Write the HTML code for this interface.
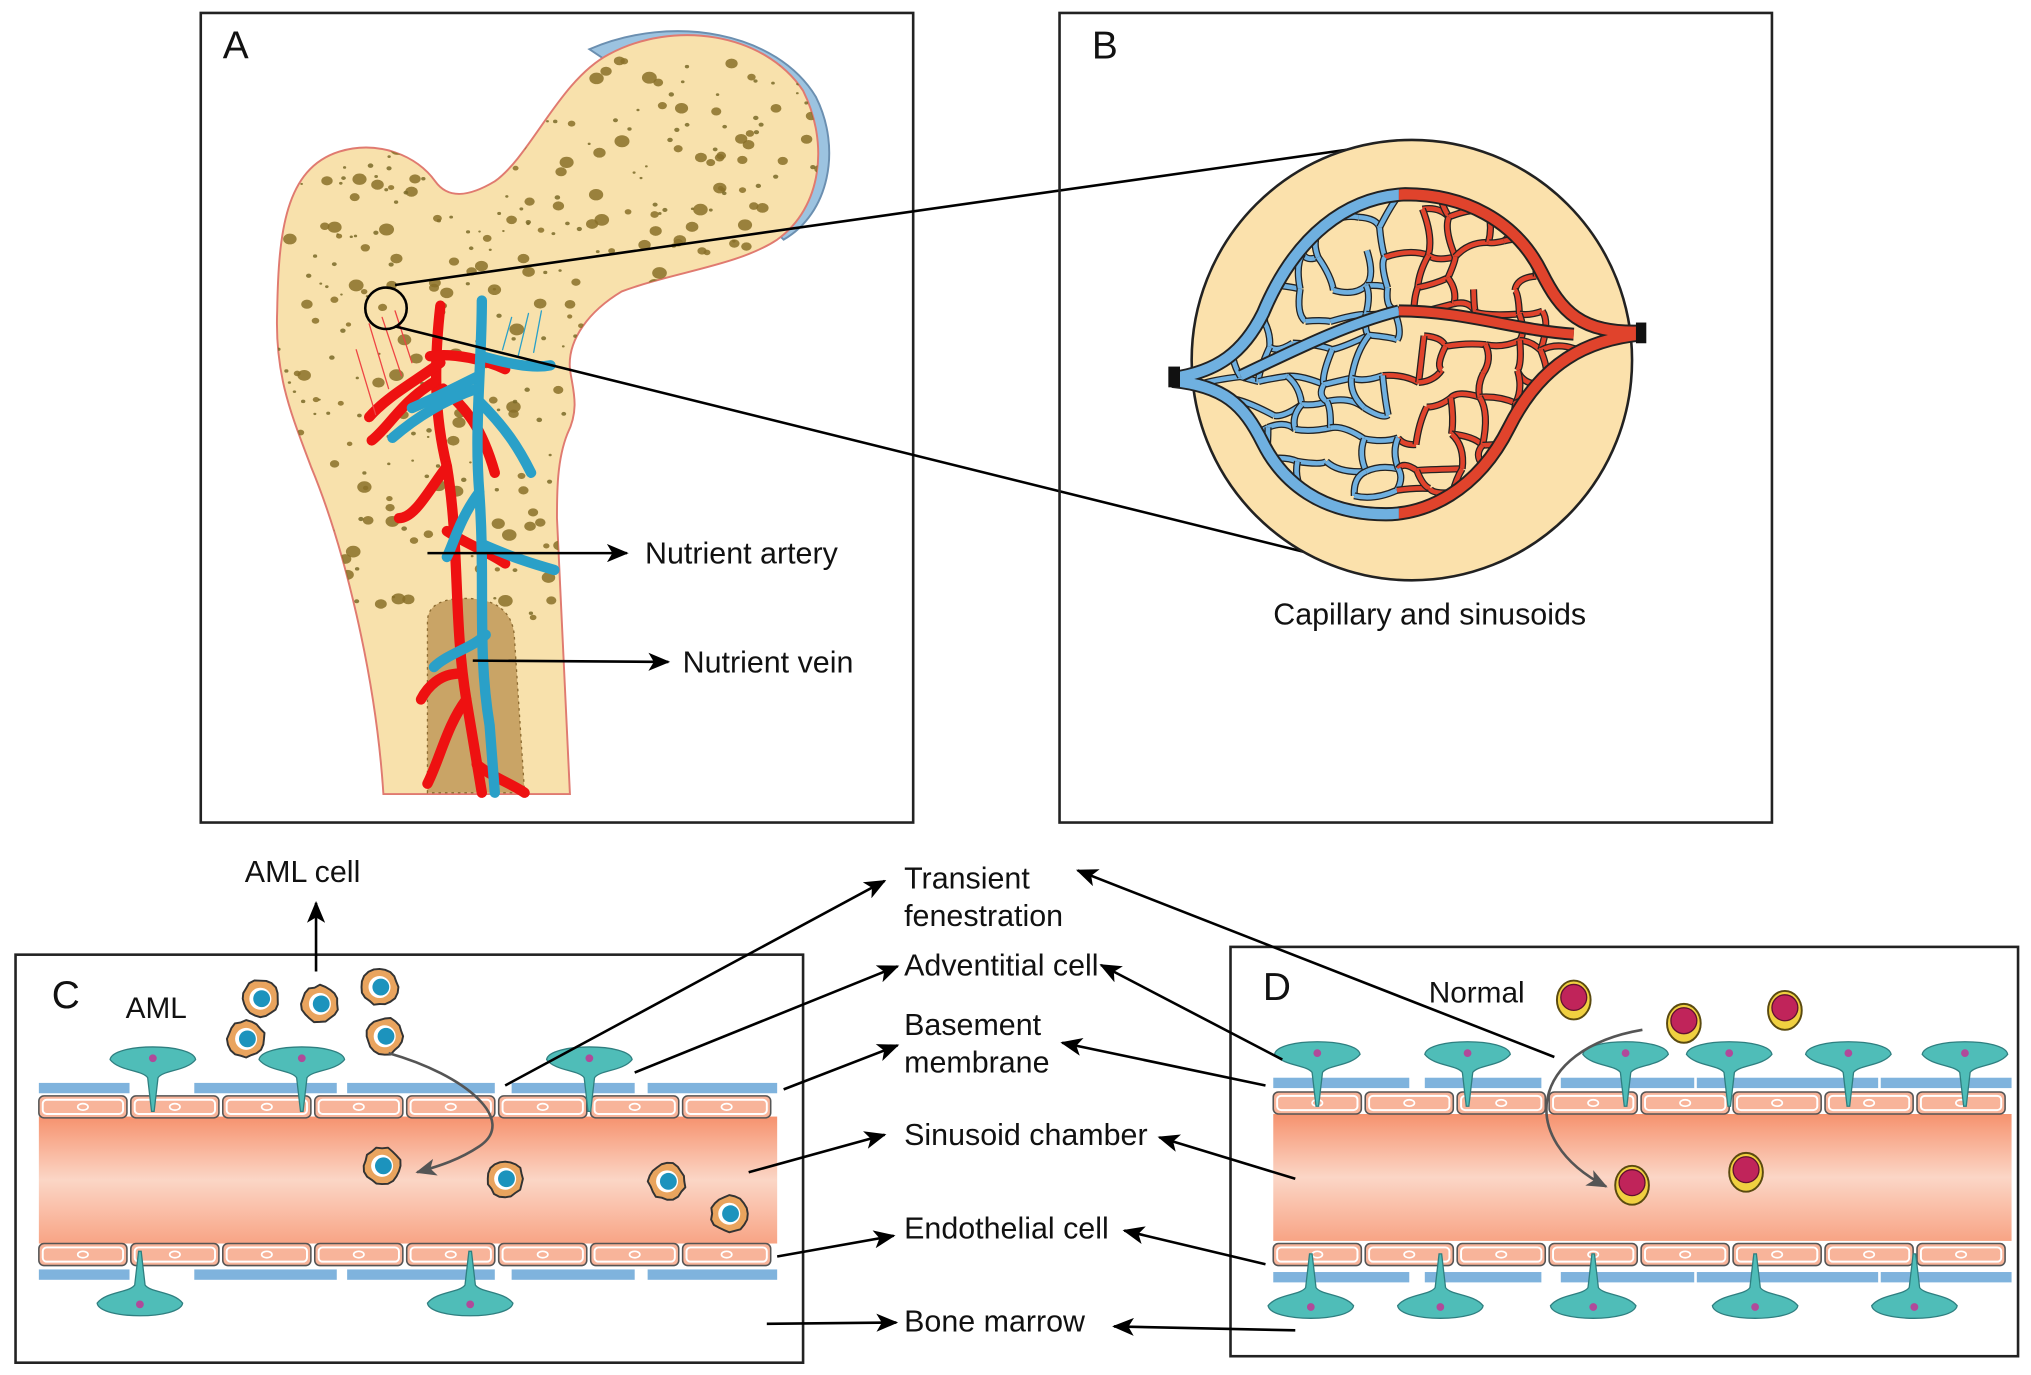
<!DOCTYPE html>
<html><head><meta charset="utf-8"><style>
html,body{margin:0;padding:0;background:#fff;width:2031px;height:1375px;overflow:hidden}
svg{display:block}
text{font-family:"Liberation Sans",Arial,sans-serif;fill:#111}
</style></head><body>
<svg id="s" width="2031" height="1375" viewBox="0 0 1568 1061.5" preserveAspectRatio="none" xmlns="http://www.w3.org/2000/svg">
<defs>
<marker id="ar" viewBox="0 0 12 10" refX="11" refY="5" markerWidth="17" markerHeight="14" markerUnits="userSpaceOnUse" orient="auto"><path d="M0,0 L12,5 L0,10 L3,5 Z" fill="#000"/></marker>
<marker id="ag" viewBox="0 0 12 10" refX="11" refY="5" markerWidth="16" markerHeight="14" markerUnits="userSpaceOnUse" orient="auto"><path d="M0,0 L12,5 L0,10 L3,5 Z" fill="#555"/></marker>
<linearGradient id="ch" x1="0" y1="0" x2="0" y2="1">
<stop offset="0" stop-color="#f6926e"/><stop offset="0.5" stop-color="#fbd6c6"/><stop offset="1" stop-color="#f8a485"/></linearGradient>
<clipPath id="lens"><path d="M905,292 C940,287 960,272 975,242 C1000,182 1040,152 1085,150 C1130,150 1170,170 1190,210 C1205,240 1220,258 1268,256 L1268,260 C1225,262 1190,280 1165,330 C1140,380 1100,397 1070,397 C1020,397 990,372 975,342 C960,312 945,298 905,296 Z"/></clipPath>
<clipPath id="leftH"><rect x="880" y="100" width="200" height="320"/></clipPath>
<clipPath id="rightH"><rect x="1080" y="100" width="220" height="320"/></clipPath>
<path id="lensOut" d="M905,292 C940,287 960,272 975,242 C1000,182 1040,152 1085,150 C1130,150 1170,170 1190,210 C1205,240 1220,258 1268,256 M905,294 C945,298 960,312 975,342 C990,372 1020,397 1070,397 C1100,397 1140,380 1165,330 C1190,280 1225,262 1268,258"/>
<path id="bp" d="M296,613 C290,520 265,420 240,360 C225,320 212,290 214,240 C215,180 220,130 262,117 C292,108 322,120 336,140 C346,154 362,152 382,140 C410,120 432,62 470,42 C520,15 590,25 620,70 C640,110 635,160 600,185 C570,205 520,210 480,225 C455,240 438,262 440,285 C442,300 448,315 438,335 C430,355 430,380 430,400 L440,613 Z"/>
<clipPath id="bone"><use href="#bp"/></clipPath>
</defs>

<rect x="155" y="10" width="550" height="625" fill="none" stroke="#222" stroke-width="2"/>
<text x="172" y="45" font-size="30">A</text>
<path d="M455,38 C520,10 600,25 630,75 C650,115 640,165 605,185 L598,178 C628,160 638,118 620,82 C595,38 530,25 470,48 Z" fill="#9cc3e0" stroke="#6b8fb0" stroke-width="1.5"/>
<use href="#bp" fill="#f8e1ac" stroke="#e07a70" stroke-width="1.5"/>
<g id="dots" clip-path="url(#bone)"></g>
<path d="M330,612 L330,480 C330,465 345,462 360,462 C380,462 395,470 397,490 L405,612 Z" fill="#c9a466" stroke="#8b6a30" stroke-width="1" stroke-dasharray="2 3"/>
<g fill="none" stroke-linecap="round">
<g stroke="#e11" stroke-width="8">
<path d="M340,236 C335,280 335,320 345,360 C355,420 350,480 360,540 L372,612"/>
<path d="M340,280 C320,295 300,305 285,322"/><path d="M335,295 C310,310 300,330 287,340"/>
<path d="M345,360 C330,380 320,400 308,400"/><path d="M342,300 C360,315 372,330 382,365"/>
<path d="M332,275 C350,272 375,278 390,285"/><path d="M360,540 C345,560 340,585 330,605"/><path d="M368,590 C380,600 395,605 405,612"/>
<path d="M345,410 C360,420 375,425 390,435"/><path d="M355,520 C340,520 330,530 325,540"/>
</g>
<g stroke="#e44" stroke-width="1"><path d="M285,250 L300,300 M295,245 L310,290 M275,270 L290,320 M305,240 L318,280"/></g>
<g stroke="#2aa0c8" stroke-width="8">
<path d="M372,232 C372,280 366,330 370,380 C375,450 368,500 378,560 L382,612"/>
<path d="M370,290 C350,300 330,310 318,315"/><path d="M368,300 C340,310 318,325 303,338"/>
<path d="M372,275 C390,280 410,285 425,282"/><path d="M370,310 C390,330 400,345 410,365"/>
<path d="M370,380 C355,400 350,420 345,430"/><path d="M372,420 C395,430 410,435 428,440"/>
<path d="M375,490 C365,500 345,505 335,515"/>
</g>
<g stroke="#2aa0c8" stroke-width="1"><path d="M395,245 L388,270 M408,242 L400,275 M418,240 L412,272"/></g>
</g>
<circle cx="298" cy="238" r="16" fill="none" stroke="#000" stroke-width="2"/>
<line x1="305" y1="220" x2="1058" y2="113" stroke="#000" stroke-width="2"/>
<line x1="305" y1="252" x2="1075" y2="443" stroke="#000" stroke-width="2"/>
<line x1="330" y1="427" x2="484" y2="427" stroke="#000" stroke-width="2" marker-end="url(#ar)"/>
<line x1="365" y1="510" x2="516" y2="511" stroke="#000" stroke-width="2" marker-end="url(#ar)"/>
<text x="498" y="435" font-size="23.5">Nutrient artery</text>
<text x="527" y="519" font-size="23.5">Nutrient vein</text>

<rect x="818" y="10" width="550" height="625" fill="none" stroke="#222" stroke-width="2"/>
<text x="843" y="45" font-size="30">B</text>
<circle cx="1090" cy="278" r="170" fill="#fbe1ac" stroke="#222" stroke-width="2"/>
<g id="net" clip-path="url(#lens)"></g>
<g fill="none" stroke-linecap="butt">
<use href="#lensOut" stroke="#222" stroke-width="11"/>
<g clip-path="url(#leftH)"><use href="#lensOut" stroke="#6fb0e0" stroke-width="8"/></g>
<g clip-path="url(#rightH)"><use href="#lensOut" stroke="#e0432c" stroke-width="8"/></g>
<path d="M958,290 C1000,270 1040,250 1080,240" stroke="#222" stroke-width="10"/>
<path d="M958,290 C1000,270 1040,250 1080,240" stroke="#6fb0e0" stroke-width="7"/>
<path d="M1080,240 C1130,240 1170,255 1215,258" stroke="#222" stroke-width="10"/>
<path d="M1080,240 C1130,240 1170,255 1215,258" stroke="#e0432c" stroke-width="7"/>
</g>
<rect x="902" y="283" width="9" height="16" fill="#111"/>
<rect x="1263" y="249" width="8" height="16" fill="#111"/>
<text x="983" y="482" font-size="23.5">Capillary and sinusoids</text>

<rect x="12" y="737" width="608" height="315" fill="none" stroke="#222" stroke-width="2"/>
<text x="40" y="778" font-size="30">C</text>
<text x="97" y="786" font-size="23">AML</text>
<text x="189" y="681" font-size="23.5">AML cell</text>
<line x1="244" y1="750" x2="244" y2="697" stroke="#000" stroke-width="2" marker-end="url(#ar)"/>
<rect x="30" y="862" width="570" height="98" fill="url(#ch)"/>
<g id="cC"></g>

<rect x="950" y="731" width="608" height="316" fill="none" stroke="#222" stroke-width="2"/>
<text x="975" y="772" font-size="30">D</text>
<text x="1103" y="774" font-size="23">Normal</text>
<rect x="983" y="860" width="570" height="98" fill="url(#ch)"/>
<g id="cD"></g>

<g font-size="23.5">
<text x="698" y="686">Transient</text>
<text x="698" y="715">fenestration</text>
<text x="698" y="753">Adventitial cell</text>
<text x="698" y="799">Basement</text>
<text x="698" y="828">membrane</text>
<text x="698" y="884">Sinusoid chamber</text>
<text x="698" y="956">Endothelial cell</text>
<text x="698" y="1028">Bone marrow</text>
</g>
<g stroke="#000" stroke-width="2" fill="none" marker-end="url(#ar)">
<line x1="390" y1="838" x2="683" y2="680"/>
<line x1="490" y1="828" x2="693" y2="746"/>
<line x1="605" y1="841" x2="693" y2="807"/>
<line x1="578" y1="905" x2="683" y2="876"/>
<line x1="600" y1="970" x2="690" y2="954"/>
<line x1="592" y1="1022" x2="692" y2="1021"/>
<line x1="1200" y1="816" x2="832" y2="672"/>
<line x1="990" y1="818" x2="850" y2="745"/>
<line x1="977" y1="838" x2="820" y2="805"/>
<line x1="1000" y1="910" x2="895" y2="878"/>
<line x1="977" y1="976" x2="868" y2="950"/>
<line x1="1000" y1="1027" x2="860" y2="1024"/>
</g>
<path d="M300,813 C360,830 400,865 370,885 C355,895 340,900 322,905" fill="none" stroke="#555" stroke-width="2" marker-end="url(#ag)"/>
<path d="M1268,795 C1180,810 1170,880 1240,916" fill="none" stroke="#555" stroke-width="2" marker-end="url(#ag)"/>
</svg>
<script>
var NS="http://www.w3.org/2000/svg";
function el(p,t,a){var e=document.createElementNS(NS,t);for(var k in a)e.setAttribute(k,a[k]);p.appendChild(e);return e;}
var seed=7;function r(){seed=(seed*16807)%2147483647;return seed/2147483647;}
var dg=document.getElementById('dots');
for(var i=0;i<560;i++){var x=215+r()*420,y=40+r()*440;var big=r();
 var rad=big<0.5?1+r()*1.2:2+r()*3.8;
 el(dg,'ellipse',{cx:x,cy:y,rx:rad,ry:rad*0.8,fill:big<0.5?'#7a6a28':'#8a7028',opacity:0.85});}
var ng=document.getElementById('net');
var pts=[];for(var gx=905;gx<=1270;gx+=24){for(var gy=145;gy<=400;gy+=24){pts.push([gx+(r()-0.5)*16,gy+(r()-0.5)*16]);}}
var cols=Math.floor((1270-905)/24)+1,rows=Math.floor((400-145)/24)+1;
function P(a,b){return pts[a*rows+b];}
function seg(p,q){var c=(p[0]+q[0])/2<1080?'#6fb0e0':'#e0432c';
 var mx=(p[0]+q[0])/2+(r()-0.5)*14,my=(p[1]+q[1])/2+(r()-0.5)*14;
 var d='M'+p[0]+','+p[1]+' Q'+mx+','+my+' '+q[0]+','+q[1];
 el(ng,'path',{d:d,stroke:'#222','stroke-width':5.5,fill:'none'});
 el(ng,'path',{d:d,stroke:c,'stroke-width':3.5,fill:'none'});}
for(var a=0;a<cols;a++)for(var b=0;b<rows;b++){if(a+1<cols&&r()<0.75)seg(P(a,b),P(a+1,b));if(b+1<rows&&r()<0.75)seg(P(a,b),P(a,b+1));}
function wall(g,x0,x1,yb1,yc1,yc2,yb2,gaps,tops,bots){
 var cw=71;
 for(var x=x0;x<x1-5;x+=cw){var w=Math.min(cw-3,x1-x);
  [yc1,yc2].forEach(function(y){el(g,'rect',{x:x,y:y,width:w,height:17,rx:4,fill:'#f8b49a',stroke:'#555','stroke-width':1.2});
   el(g,'rect',{x:x+3,y:y+3,width:w-6,height:11,rx:3,fill:'none',stroke:'#fff','stroke-width':1.5});
   el(g,'ellipse',{cx:x+w/2,cy:y+8.5,rx:4,ry:2.5,fill:'none',stroke:'#fff','stroke-width':1.3});});}
 gaps.forEach(function(s){el(g,'rect',{x:s[0],y:yb1,width:s[1]-s[0],height:8,fill:'#7fb3dd'});el(g,'rect',{x:s[0],y:yb2,width:s[1]-s[0],height:8,fill:'#7fb3dd'});});
 tops.forEach(function(x){adv(g,x,yb1-18,1);});
 bots.forEach(function(x){adv(g,x,yb2+26,-1);});
}
function adv(g,x,y,dir){var d='M'+(x-33)+',0 C'+(x-31)+',-13 '+(x+31)+',-13 '+(x+33)+',0 C'+(x+26)+',9 '+(x+8)+',8 '+(x+4)+',14 L'+(x+1)+',40 L'+(x-1)+',40 L'+(x-4)+',14 C'+(x-8)+',8 '+(x-26)+',9 '+(x-33)+',0 Z';
 var gg=el(g,'g',{transform:'translate(0,'+y+') scale(1,'+dir+')'});
 el(gg,'path',{d:d,fill:'#4fbdb8',stroke:'#2f7f80','stroke-width':1});
 el(gg,'circle',{cx:x,cy:-1,r:3,fill:'#b04a9a'});}
var gc=document.getElementById('cC'),gd=document.getElementById('cD');
wall(gc,30,600,836,846,960,980,[[30,100],[150,260],[268,382],[395,490],[500,600]],[118,233,455],[108,363]);
wall(gd,983,1553,832,843,960,982,[[983,1088],[1100,1190],[1205,1308],[1310,1450],[1452,1553]],[1017,1133,1255,1335,1427,1517],[1012,1112,1230,1355,1478]);
function aml(x,y){var d='';for(var k=0;k<20;k++){var a=k/20*Math.PI*2,rr=14+(r()-0.5)*1.8;d+=(k?'L':'M')+(x+rr*Math.cos(a)).toFixed(1)+','+(y+rr*Math.sin(a)).toFixed(1);}
 el(gc,'path',{d:d+'Z',fill:'#e9a45e',stroke:'#333','stroke-width':1.5,'stroke-linejoin':'round'});
 el(gc,'circle',{cx:x,cy:y,r:8.5,fill:'#fff'});el(gc,'circle',{cx:x+1,cy:y,r:6.5,fill:'#1c93bd'});}
[[201,771],[247,775],[293,762],[190,802],[297,800],[295,900],[390,910],[515,912],[563,937]].forEach(function(p){aml(p[0],p[1]);});
function nrm(x,y){el(gd,'ellipse',{cx:x,cy:y,rx:13,ry:15,fill:'#f0d040',stroke:'#5a4a10','stroke-width':1.5});
 el(gd,'circle',{cx:x,cy:y-2,r:10,fill:'#c0245a',stroke:'#601030','stroke-width':1});}
[[1215,772],[1300,790],[1378,780],[1260,915],[1348,905]].forEach(function(p){nrm(p[0],p[1]);});
</script>
</body></html>
